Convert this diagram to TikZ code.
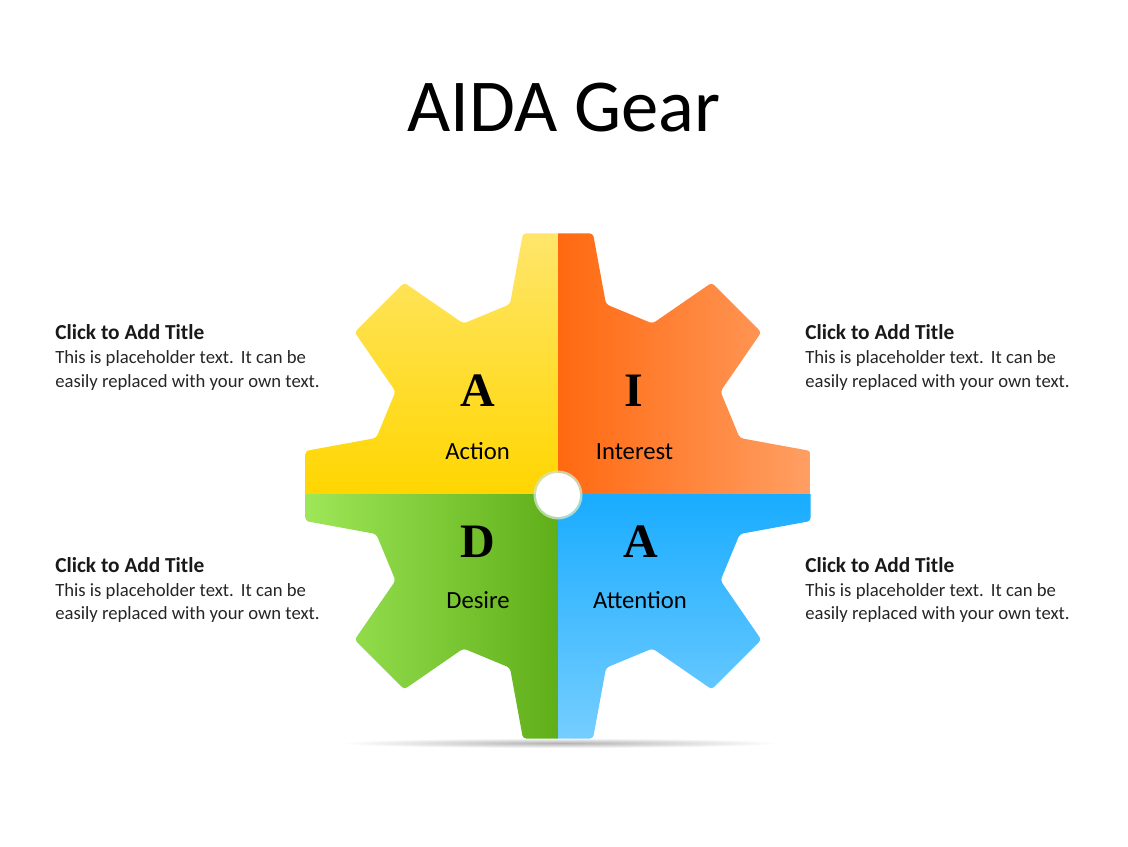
\documentclass[tikz,border=0pt]{standalone}
\usepackage{fontspec}
\setmainfont{Carlito}
\newfontfamily\serifb{Liberation Serif}
\definecolor{yelA}{RGB}{255,230,110}
\definecolor{yelB}{RGB}{255,214,0}
\definecolor{oraA}{RGB}{255,105,16}
\definecolor{oraB}{RGB}{255,162,104}
\definecolor{grnA}{RGB}{162,234,92}
\definecolor{grnB}{RGB}{95,175,25}
\definecolor{bluA}{RGB}{25,172,255}
\definecolor{bluB}{RGB}{122,207,255}
\definecolor{holeglow}{RGB}{205,228,200}
\tikzset{
  bigletter/.style={font=\serifb\bfseries\fontsize{36}{40}\selectfont, inner sep=0pt, anchor=base},
  gearlabel/.style={font=\fontsize{18.5}{22}\selectfont, inner sep=0pt, anchor=base},
  tbold/.style={font=\fontsize{16}{19}\selectfont\bfseries, inner sep=0pt, anchor=base west, text=black!90},
  tbody/.style={font=\fontsize{14}{17}\selectfont, inner sep=0pt, anchor=base west, text=black!85},
}
\newcommand\gearpath{(-22.5:186.3) \foreach \a in {0,45,...,315}{ -- (\a-14.8:188) -- (\a-7.9:255) -- (\a+7.9:255) -- (\a+14.8:188)} -- cycle}
\newcommand\infoblock[3]{%
  \node[tbold] (#1t) at (#2,#3) {Click to Add Title};
  \node[tbody] (#1a) at (#2,#3+24) {This is placeholder text.\hspace{0.08em} It can be};
  \node[tbody] (#1b) at (#2,#3+47.5) {easily replaced with your own text.};}
\begin{document}
\begin{tikzpicture}[x=0.75pt,y=-0.75pt]
\useasboundingbox[fill=white] (0,0) rectangle (1128,846);
% title
\node[font=\fontsize{56}{60}\selectfont, inner sep=0pt, anchor=base] (title) at (564,131) {AIDA Gear};
% shadow
\shade[inner color=black!30, outer color=white] (560,743) ellipse [x radius=220, y radius=5];
% gear quadrants
\begin{scope}
  \clip[shift={(558,486)}, rounded corners=2.5pt] \gearpath;
  \shade[top color=yelA, bottom color=yelB] (290,225) rectangle (558,494);
  \shade[left color=oraA, right color=oraB] (558,225) rectangle (825,494);
  \shade[left color=grnA, right color=grnB] (290,494) rectangle (558,750);
  \shade[top color=bluA, bottom color=bluB] (558,494) rectangle (825,750);
\end{scope}
% hole
\fill[holeglow, opacity=0.8] (558,495) circle [radius=24.5];
\node[circle, fill=white, inner sep=0pt, minimum size=33pt] (hole) at (558,495) {};
% letters
\node[bigletter] (lA) at (477.5,406.5) {A};
\node[bigletter] (lI) at (633.5,406.5) {I};
\node[bigletter] (lD) at (477.5,557) {D};
\node[bigletter] (lA2) at (641,557) {A};
\node[gearlabel] (action) at (477.5,459) {Action};
\node[gearlabel] (interest) at (634.5,459) {Interest};
\node[gearlabel] (desire) at (478,608) {Desire};
\node[gearlabel] (attention) at (640,608) {Attention};
% side texts
\infoblock{tl}{55}{339.5}
\infoblock{tr}{805}{339.5}
\infoblock{bl}{55}{572}
\infoblock{br}{805}{572}
\end{tikzpicture}
\end{document}
